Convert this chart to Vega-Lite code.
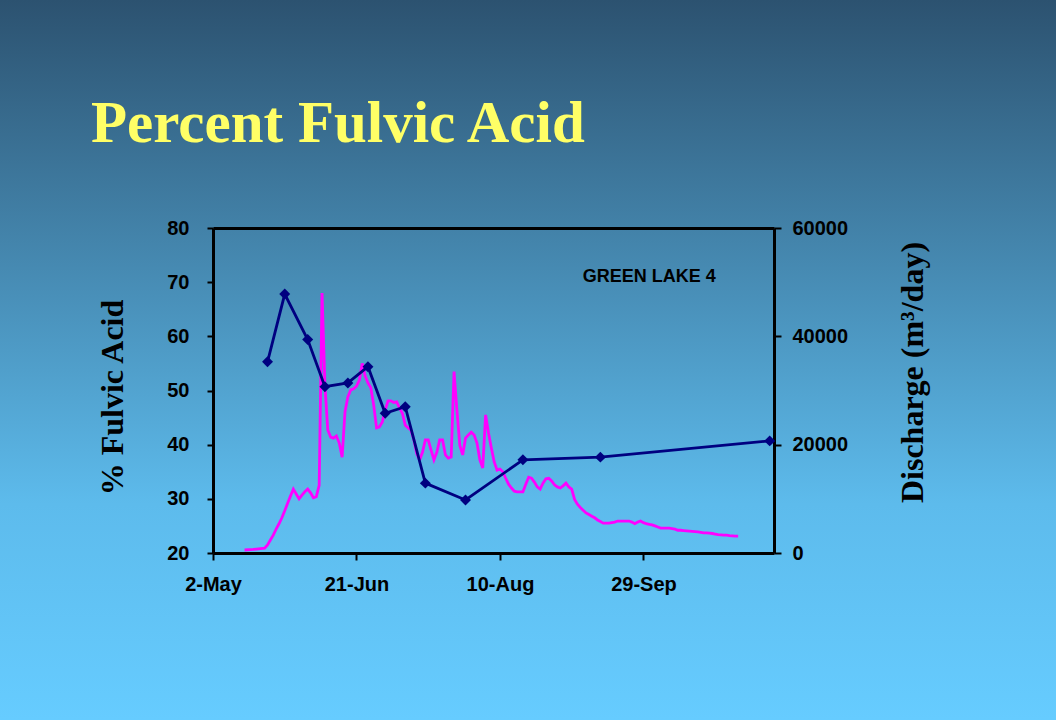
{
  "$schema": "https://vega.github.io/schema/vega-lite/v6.json",
  "width": 1056,
  "height": 720,
  "autosize": "none",
  "padding": 0,
  "background": "#4a8fba",
  "title": {
    "text": "Percent Fulvic Acid",
    "anchor": "start",
    "frame": "group",
    "orient": "top",
    "offset": 0,
    "dx": 91,
    "dy": 201,
    "baseline": "alphabetic",
    "font": "Liberation Serif",
    "fontSize": 59,
    "fontWeight": "bold",
    "color": "#ffff66"
  },
  "datasets": {
    "discharge": [
      {"date": "1998-05-13", "discharge": 550},
      {"date": "1998-05-16", "discharge": 650},
      {"date": "1998-05-20", "discharge": 900},
      {"date": "1998-05-21", "discharge": 1500},
      {"date": "1998-05-22", "discharge": 2400},
      {"date": "1998-05-23", "discharge": 3300},
      {"date": "1998-05-24", "discharge": 4400},
      {"date": "1998-05-25", "discharge": 5400},
      {"date": "1998-05-26", "discharge": 6500},
      {"date": "1998-05-27", "discharge": 7800},
      {"date": "1998-05-28", "discharge": 9200},
      {"date": "1998-05-29", "discharge": 10500},
      {"date": "1998-05-30", "discharge": 11800},
      {"date": "1998-05-31", "discharge": 10900},
      {"date": "1998-06-01", "discharge": 10000},
      {"date": "1998-06-02", "discharge": 10700},
      {"date": "1998-06-03", "discharge": 11300},
      {"date": "1998-06-04", "discharge": 11800},
      {"date": "1998-06-05", "discharge": 11100},
      {"date": "1998-06-06", "discharge": 10200},
      {"date": "1998-06-07", "discharge": 10400},
      {"date": "1998-06-08", "discharge": 12500},
      {"date": "1998-06-09", "discharge": 48000},
      {"date": "1998-06-10", "discharge": 31000},
      {"date": "1998-06-11", "discharge": 22700},
      {"date": "1998-06-12", "discharge": 21400},
      {"date": "1998-06-13", "discharge": 21200},
      {"date": "1998-06-14", "discharge": 21600},
      {"date": "1998-06-15", "discharge": 20300},
      {"date": "1998-06-16", "discharge": 17700},
      {"date": "1998-06-17", "discharge": 26100},
      {"date": "1998-06-18", "discharge": 28800},
      {"date": "1998-06-19", "discharge": 30100},
      {"date": "1998-06-20", "discharge": 30300},
      {"date": "1998-06-21", "discharge": 30800},
      {"date": "1998-06-22", "discharge": 31900},
      {"date": "1998-06-23", "discharge": 35000},
      {"date": "1998-06-24", "discharge": 32700},
      {"date": "1998-06-25", "discharge": 31400},
      {"date": "1998-06-26", "discharge": 30500},
      {"date": "1998-06-27", "discharge": 27300},
      {"date": "1998-06-28", "discharge": 23100},
      {"date": "1998-06-29", "discharge": 23300},
      {"date": "1998-06-30", "discharge": 24200},
      {"date": "1998-07-01", "discharge": 26400},
      {"date": "1998-07-02", "discharge": 28100},
      {"date": "1998-07-03", "discharge": 28100},
      {"date": "1998-07-04", "discharge": 27800},
      {"date": "1998-07-05", "discharge": 27900},
      {"date": "1998-07-06", "discharge": 26800},
      {"date": "1998-07-07", "discharge": 25800},
      {"date": "1998-07-08", "discharge": 23600},
      {"date": "1998-07-09", "discharge": 23100},
      {"date": "1998-07-10", "discharge": 22700},
      {"date": "1998-07-11", "discharge": 20900},
      {"date": "1998-07-12", "discharge": 18300},
      {"date": "1998-07-13", "discharge": 17200},
      {"date": "1998-07-14", "discharge": 18600},
      {"date": "1998-07-15", "discharge": 20900},
      {"date": "1998-07-16", "discharge": 20900},
      {"date": "1998-07-17", "discharge": 19000},
      {"date": "1998-07-18", "discharge": 17200},
      {"date": "1998-07-19", "discharge": 18600},
      {"date": "1998-07-20", "discharge": 20900},
      {"date": "1998-07-21", "discharge": 20900},
      {"date": "1998-07-22", "discharge": 18100},
      {"date": "1998-07-23", "discharge": 17500},
      {"date": "1998-07-24", "discharge": 17700},
      {"date": "1998-07-25", "discharge": 33500},
      {"date": "1998-07-26", "discharge": 26400},
      {"date": "1998-07-27", "discharge": 19900},
      {"date": "1998-07-28", "discharge": 18100},
      {"date": "1998-07-29", "discharge": 21200},
      {"date": "1998-07-30", "discharge": 21800},
      {"date": "1998-07-31", "discharge": 22300},
      {"date": "1998-08-01", "discharge": 21800},
      {"date": "1998-08-02", "discharge": 20300},
      {"date": "1998-08-03", "discharge": 17200},
      {"date": "1998-08-04", "discharge": 15700},
      {"date": "1998-08-05", "discharge": 25500},
      {"date": "1998-08-06", "discharge": 22200},
      {"date": "1998-08-07", "discharge": 19400},
      {"date": "1998-08-08", "discharge": 16800},
      {"date": "1998-08-09", "discharge": 15300},
      {"date": "1998-08-10", "discharge": 15500},
      {"date": "1998-08-11", "discharge": 15000},
      {"date": "1998-08-12", "discharge": 13800},
      {"date": "1998-08-13", "discharge": 12700},
      {"date": "1998-08-14", "discharge": 12000},
      {"date": "1998-08-15", "discharge": 11400},
      {"date": "1998-08-16", "discharge": 11300},
      {"date": "1998-08-17", "discharge": 11300},
      {"date": "1998-08-18", "discharge": 11300},
      {"date": "1998-08-19", "discharge": 12700},
      {"date": "1998-08-20", "discharge": 14000},
      {"date": "1998-08-21", "discharge": 13800},
      {"date": "1998-08-22", "discharge": 13100},
      {"date": "1998-08-23", "discharge": 12200},
      {"date": "1998-08-24", "discharge": 11800},
      {"date": "1998-08-25", "discharge": 12900},
      {"date": "1998-08-26", "discharge": 13700},
      {"date": "1998-08-27", "discharge": 13800},
      {"date": "1998-08-28", "discharge": 13300},
      {"date": "1998-08-29", "discharge": 12600},
      {"date": "1998-08-30", "discharge": 12200},
      {"date": "1998-08-31", "discharge": 12000},
      {"date": "1998-09-01", "discharge": 12400},
      {"date": "1998-09-02", "discharge": 12900},
      {"date": "1998-09-03", "discharge": 12200},
      {"date": "1998-09-04", "discharge": 11800},
      {"date": "1998-09-05", "discharge": 9900},
      {"date": "1998-09-06", "discharge": 9000},
      {"date": "1998-09-07", "discharge": 8400},
      {"date": "1998-09-08", "discharge": 7900},
      {"date": "1998-09-09", "discharge": 7400},
      {"date": "1998-09-10", "discharge": 7100},
      {"date": "1998-09-11", "discharge": 6800},
      {"date": "1998-09-12", "discharge": 6500},
      {"date": "1998-09-13", "discharge": 6100},
      {"date": "1998-09-14", "discharge": 5800},
      {"date": "1998-09-15", "discharge": 5500},
      {"date": "1998-09-16", "discharge": 5500},
      {"date": "1998-09-17", "discharge": 5500},
      {"date": "1998-09-18", "discharge": 5600},
      {"date": "1998-09-19", "discharge": 5700},
      {"date": "1998-09-20", "discharge": 5900},
      {"date": "1998-09-21", "discharge": 5900},
      {"date": "1998-09-22", "discharge": 5900},
      {"date": "1998-09-23", "discharge": 5900},
      {"date": "1998-09-24", "discharge": 5900},
      {"date": "1998-09-25", "discharge": 5700},
      {"date": "1998-09-26", "discharge": 5400},
      {"date": "1998-09-27", "discharge": 5700},
      {"date": "1998-09-28", "discharge": 5900},
      {"date": "1998-09-29", "discharge": 5600},
      {"date": "1998-09-30", "discharge": 5400},
      {"date": "1998-10-01", "discharge": 5300},
      {"date": "1998-10-02", "discharge": 5200},
      {"date": "1998-10-03", "discharge": 5000},
      {"date": "1998-10-04", "discharge": 4800},
      {"date": "1998-10-05", "discharge": 4600},
      {"date": "1998-10-06", "discharge": 4600},
      {"date": "1998-10-07", "discharge": 4600},
      {"date": "1998-10-08", "discharge": 4600},
      {"date": "1998-10-09", "discharge": 4500},
      {"date": "1998-10-10", "discharge": 4400},
      {"date": "1998-10-11", "discharge": 4200},
      {"date": "1998-10-12", "discharge": 4200},
      {"date": "1998-10-13", "discharge": 4150},
      {"date": "1998-10-14", "discharge": 4100},
      {"date": "1998-10-15", "discharge": 4050},
      {"date": "1998-10-16", "discharge": 4000},
      {"date": "1998-10-17", "discharge": 3950},
      {"date": "1998-10-18", "discharge": 3900},
      {"date": "1998-10-19", "discharge": 3800},
      {"date": "1998-10-20", "discharge": 3700},
      {"date": "1998-10-21", "discharge": 3700},
      {"date": "1998-10-22", "discharge": 3650},
      {"date": "1998-10-23", "discharge": 3600},
      {"date": "1998-10-24", "discharge": 3500},
      {"date": "1998-10-25", "discharge": 3400},
      {"date": "1998-10-26", "discharge": 3350},
      {"date": "1998-10-27", "discharge": 3300},
      {"date": "1998-10-28", "discharge": 3300},
      {"date": "1998-10-29", "discharge": 3200},
      {"date": "1998-10-30", "discharge": 3150},
      {"date": "1998-10-31", "discharge": 3100},
      {"date": "1998-11-01", "discharge": 3100}
    ],
    "fulvic": [
      {"date": "1998-05-21", "pct": 55.3},
      {"date": "1998-05-27", "pct": 67.8},
      {"date": "1998-06-04", "pct": 59.4},
      {"date": "1998-06-10", "pct": 50.7},
      {"date": "1998-06-18", "pct": 51.4},
      {"date": "1998-06-25", "pct": 54.4},
      {"date": "1998-07-01", "pct": 45.8},
      {"date": "1998-07-08", "pct": 47.0},
      {"date": "1998-07-15", "pct": 32.9},
      {"date": "1998-07-29", "pct": 29.8},
      {"date": "1998-08-18", "pct": 37.2},
      {"date": "1998-09-14", "pct": 37.7},
      {"date": "1998-11-12", "pct": 40.7}
    ]
  },
  "layer": [
    {
      "data": {"name": "discharge"},
      "mark": {"type": "line", "color": "#ff00ff", "strokeWidth": 2.8},
      "encoding": {
        "x": {
          "field": "date",
          "type": "temporal",
          "scale": {
            "type": "utc",
            "domain": [
              {"year": 1998, "month": 5, "date": 2, "utc": true},
              {"year": 1998, "month": 11, "date": 13, "hours": 12, "utc": true}
            ],
            "range": [213, 774]
          },
          "axis": {
            "orient": "bottom",
            "offset": -167,
            "title": null,
            "values": [
              {"year": 1998, "month": 5, "date": 2, "utc": true},
              {"year": 1998, "month": 6, "date": 21, "utc": true},
              {"year": 1998, "month": 8, "date": 10, "utc": true},
              {"year": 1998, "month": 9, "date": 29, "utc": true}
            ],
            "labelExpr": "utcFormat(datum.value, '%-d-%b')",
            "labelFlush": false,
            "labelOverlap": false,
            "labelPadding": 14,
            "tickSize": 7
          }
        },
        "y": {
          "field": "discharge",
          "type": "quantitative",
          "scale": {"domain": [0, 60000], "range": [553, 228], "nice": false, "zero": false},
          "axis": {
            "orient": "right",
            "offset": -282,
            "values": [0, 20000, 40000, 60000],
            "format": "d",
            "labelPadding": 11,
            "tickSize": 7,
            "title": "Discharge (m³/day)",
            "titleAngle": 270,
            "titleX": 138,
            "titleY": 372,
            "titleAlign": "center",
            "titleBaseline": "middle"
          }
        }
      }
    },
    {
      "layer": [
        {
          "data": {"name": "fulvic"},
          "mark": {
            "type": "line",
            "color": "#000080",
            "strokeWidth": 2.8,
            "point": {"shape": "diamond", "size": 120, "filled": true, "color": "#000080"}
          },
          "encoding": {
            "x": {
              "field": "date",
              "type": "temporal",
              "scale": {
                "type": "utc",
                "domain": [
                  {"year": 1998, "month": 5, "date": 2, "utc": true},
                  {"year": 1998, "month": 11, "date": 13, "hours": 12, "utc": true}
                ],
                "range": [213, 774]
              },
              "axis": {
                "orient": "top",
                "offset": -228,
                "title": null,
                "labels": false,
                "ticks": false,
                "domain": true
              }
            },
            "y": {
              "field": "pct",
              "type": "quantitative",
              "scale": {"domain": [20, 80], "range": [553, 228], "nice": false, "zero": false},
              "axis": {
                "orient": "left",
                "offset": -213,
                "values": [20, 30, 40, 50, 60, 70, 80],
                "labelPadding": 18,
                "tickSize": 6,
                "title": "% Fulvic Acid",
                "titleAngle": 270,
                "titleX": -101,
                "titleY": 397,
                "titleAlign": "center",
                "titleBaseline": "middle"
              }
            }
          }
        },
        {
          "data": {"values": [{"label": "GREEN LAKE 4"}]},
          "mark": {
            "type": "text",
            "font": "Liberation Sans",
            "fontSize": 18,
            "fontWeight": "bold",
            "color": "black",
            "align": "center",
            "baseline": "middle"
          },
          "encoding": {
            "text": {"field": "label", "type": "nominal"},
            "x": {"datum": {"year": 1998, "month": 10, "date": 1, "utc": true}, "type": "temporal"},
            "y": {"datum": 71, "type": "quantitative"}
          }
        }
      ]
    }
  ],
  "resolve": {
    "scale": {"y": "independent"},
    "axis": {"x": "independent", "y": "independent"}
  },
  "config": {
    "view": {
      "stroke": null,
      "fill": {
        "gradient": "linear",
        "x1": 0, "y1": 0, "x2": 0, "y2": 1,
        "stops": [
          {"offset": 0, "color": "#2c5270"},
          {"offset": 0.7, "color": "#5dbbec"},
          {"offset": 1, "color": "#66ccff"}
        ]
      }
    },
    "axis": {
      "grid": false,
      "domainColor": "black",
      "domainWidth": 3,
      "tickColor": "black",
      "tickWidth": 2,
      "labelColor": "black",
      "labelFont": "Liberation Sans",
      "labelFontSize": 20,
      "labelFontWeight": "bold",
      "titleColor": "black",
      "titleFont": "Liberation Serif",
      "titleFontSize": 32,
      "titleFontWeight": "bold"
    }
  }
}
